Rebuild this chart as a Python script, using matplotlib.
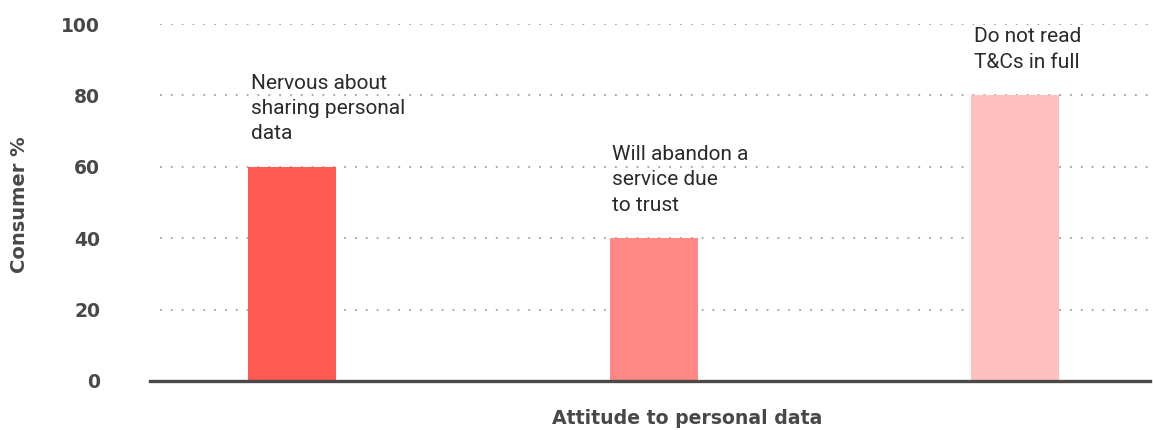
import matplotlib
matplotlib.use('Agg')
import matplotlib.pyplot as plt
import numpy as np

# Data
categories = ['Nervous about\nsharing personal\ndata',
              'Will abandon a\nservice due\nto trust',
              'Do not read\nT&Cs in full']
values = [60, 40, 80]
bar_colors = ['#FF5A52', '#FF8884', '#FFC1C0']
yticks = [0, 20, 40, 60, 80, 100]

axis_font = 'DejaVu Sans'
label_font = 'Roboto'
dark = '#484848'

fig = plt.figure(figsize=(11.53, 4.30), dpi=100)
ax = fig.add_axes([150 / 1153, 49 / 430, 1000 / 1153, 357 / 430])

x = np.arange(len(values))
bars = ax.bar(x, values, width=0.243, color=bar_colors, zorder=3)

# dotted gridlines
for t in yticks[1:]:
    ax.axhline(t, xmin=0.01, xmax=1.0, color='#a0a0a0', linestyle=(0, (1, 5)),
               linewidth=1.3, zorder=1)

# labels above bars, left aligned with bar edge
for b, txt in zip(bars, categories):
    ax.annotate(txt, xy=(b.get_x(), b.get_height()), xytext=(2, 17),
                textcoords='offset points', ha='left', va='bottom',
                fontsize=15, family=label_font, fontweight='normal',
                color='#2a2a2a', linespacing=1.42, annotation_clip=False)

ax.set_xlim(-0.393, 2.373)
ax.set_ylim(0, 100)
ax.set_xticks([])
ax.set_yticks(yticks)
ax.set_yticklabels([str(t) for t in yticks], family=axis_font,
                   fontweight='bold', fontsize=13.5, color=dark)
ax.tick_params(axis='y', length=0, pad=36)

for s in ['top', 'right', 'left']:
    ax.spines[s].set_visible(False)
ax.spines['bottom'].set_color('#4a4a4a')
ax.spines['bottom'].set_linewidth(2.4)
ax.spines['bottom'].set_zorder(4)

fig.text(20 / 1153, 1 - 205 / 430, 'Consumer %', rotation=90, ha='center',
         va='center', family=axis_font, fontweight='bold', fontsize=14,
         color=dark)
fig.text(687 / 1153, 1 - 418 / 430, 'Attitude to personal data', ha='center',
         va='center', family=axis_font, fontweight='bold', fontsize=13.6,
         color=dark)

fig.savefig('out.png', dpi=100)
